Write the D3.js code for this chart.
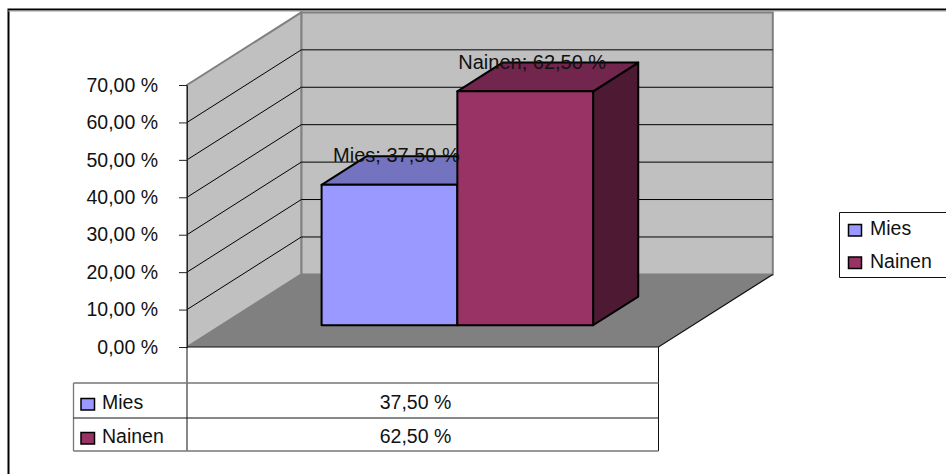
<!DOCTYPE html>
<html>
<head>
<meta charset="utf-8">
<script src="https://cdn.jsdelivr.net/npm/d3@7"></script>
<style>
html, body { margin: 0; padding: 0; background: #fff; }
svg { display: block; }
text { font-family: "Liberation Sans", Arial, sans-serif; font-size: 19.5px; fill: #111; }
</style>
</head>
<body>
<div id="visualization"></div>
<script>
var series = ["Mies", "Nainen"];
var values = [37.5, 62.5];
var tickValues = [0, 10, 20, 30, 40, 50, 60, 70];
var fillColors = ["#9999ff", "#993366"];
var topColors = ["#7373bf", "#73264d"];
var sideColors = ["#4d4d80", "#4d1933"];

var width = 946, height = 474;

var svg = d3.select("#visualization").append("svg")
    .attr("width", width)
    .attr("height", height);

function percent(v) {
    return d3.format(".2f")(v).replace(".", ",") + " %";
}

// front plane of the plot box
var y = d3.scaleLinear().domain([0, 70]).range([347, 85]);
var x = d3.scaleBand().domain(series).range([287.3, 558.8]);
var plotLeft = 187, plotRight = 658.5;

// depth runs from the front plane (0) to the back wall (1)
var depthX = d3.scaleLinear().domain([0, 1]).range([0, 114.3]);
var depthY = d3.scaleLinear().domain([0, 1]).range([0, -72.6]);
var barFront = 0.3, barBack = 0.695;

function project(px, v, z) {
    return [px + depthX(z), y(v) + depthY(z)];
}

function face(points) {
    return d3.line()(points) + "Z";
}

// outer chart frame, open on the right and at the bottom
svg.append("path")
    .attr("d", "M8.5," + height + "V9.5H" + width)
    .attr("fill", "none")
    .attr("stroke", "#000")
    .attr("stroke-width", 2);
svg.append("line")
    .attr("x1", 8).attr("x2", width)
    .attr("y1", 11).attr("y2", 11)
    .attr("stroke", "#999");

// walls and floor
var walls = svg.append("g");
walls.append("path")
    .attr("d", face([project(plotLeft, 0, 1), project(plotLeft, 70, 1), project(plotRight, 70, 1), project(plotRight, 0, 1)]))
    .attr("fill", "#c0c0c0")
    .attr("stroke", "#808080")
    .attr("stroke-width", 2);
walls.append("path")
    .attr("d", face([project(plotLeft, 0, 0), project(plotLeft, 70, 0), project(plotLeft, 70, 1), project(plotLeft, 0, 1)]))
    .attr("fill", "#c0c0c0")
    .attr("stroke", "#808080")
    .attr("stroke-width", 2);

// gridlines on both walls
tickValues.slice(1, -1).forEach(function(t) {
    walls.append("path")
        .attr("d", d3.line()([project(plotLeft, t, 0), project(plotLeft, t, 1), project(plotRight, t, 1)]))
        .attr("fill", "none")
        .attr("stroke", "#000")
        .attr("stroke-width", 1);
});

walls.append("path")
    .attr("d", face([project(plotLeft, 0, 0), project(plotLeft, 0, 1), project(plotRight, 0, 1), project(plotRight, 0, 0)]))
    .attr("fill", "#808080");
walls.append("path")
    .attr("d", d3.line()([project(plotLeft, 0, 0), project(plotRight, 0, 0), project(plotRight, 0, 1)]))
    .attr("fill", "none")
    .attr("stroke", "#111")
    .attr("stroke-width", 1.2);

// bars
var bars = svg.selectAll(".bar")
    .data(series)
    .enter().append("g")
    .attr("class", "bar");

function barFace(fn, colors) {
    bars.append("path")
        .attr("d", function(d, i) {
            var x0 = x(d), x1 = x(d) + x.bandwidth(), v = values[i];
            return face(fn(x0, x1, v));
        })
        .attr("fill", function(d, i) { return colors[i]; })
        .attr("stroke", "#000")
        .attr("stroke-width", 2)
        .attr("stroke-linejoin", "round");
}

barFace(function(x0, x1, v) {
    return [project(x1, 0, barFront), project(x1, 0, barBack), project(x1, v, barBack), project(x1, v, barFront)];
}, sideColors);
barFace(function(x0, x1, v) {
    return [project(x0, v, barFront), project(x0, v, barBack), project(x1, v, barBack), project(x1, v, barFront)];
}, topColors);
barFace(function(x0, x1, v) {
    return [project(x0, 0, barFront), project(x0, v, barFront), project(x1, v, barFront), project(x1, 0, barFront)];
}, fillColors);

// value axis
var axis = d3.axisLeft(y)
    .tickValues(tickValues)
    .tickFormat(percent)
    .tickSize(8)
    .tickSizeOuter(0)
    .tickPadding(21);

var axisG = svg.append("g")
    .attr("transform", "translate(" + plotLeft + ",0)")
    .call(axis);
axisG.selectAll("text").attr("fill", "#111").style("font-size", "19.5px").style("font-family", null);
axisG.selectAll(".tick line").attr("stroke", "#222");
axisG.select(".domain").attr("stroke", "#222");

// data labels sit over the bar tops
svg.selectAll(".data-label")
    .data(series)
    .enter().append("text")
    .attr("class", "data-label")
    .attr("text-anchor", "middle")
    .attr("x", function(d) { return project(x(d) + x.bandwidth() / 2, 0, barFront)[0] + 7; })
    .attr("y", function(d, i) { return project(0, values[i], barFront)[1] - 22.5; })
    .style("font-size", "20px")
    .text(function(d, i) { return d + "; " + percent(values[i]); });

// data table under the plot
var tableLeft = 73.5;
var rowY = d3.scaleBand().domain(series).range([384, 452]);
var table = svg.append("g");

table.append("path")
    .attr("d", "M" + plotLeft + ",347V451M" + plotRight + ",347V451")
    .attr("fill", "none")
    .attr("stroke", "#111");
table.append("path")
    .attr("d", "M" + tableLeft + ",383H" + plotRight + "M" + tableLeft + ",451H" + plotRight + "M" + tableLeft + ",383V451")
    .attr("fill", "none")
    .attr("stroke", "#777")
    .attr("stroke-width", 1.3);
table.append("line")
    .attr("x1", tableLeft).attr("x2", plotRight)
    .attr("y1", rowY("Nainen")).attr("y2", rowY("Nainen"))
    .attr("stroke", "#111");

var rows = table.selectAll(".row")
    .data(series)
    .enter().append("g")
    .attr("class", "row")
    .attr("transform", function(d) { return "translate(0," + rowY(d) + ")"; });

rows.append("rect")
    .attr("x", 81).attr("y", 14.5)
    .attr("width", 13.5).attr("height", 11.5)
    .attr("fill", function(d, i) { return fillColors[i]; })
    .attr("stroke", "#000")
    .attr("stroke-width", 1.5);
rows.append("text")
    .attr("x", 102).attr("y", 24.5)
    .text(function(d) { return d; });
rows.append("text")
    .attr("x", 415.5).attr("y", 24.5)
    .attr("text-anchor", "middle")
    .text(function(d, i) { return percent(values[i]); });

// legend box, cut off by the right edge of the page
var legendY = d3.scaleBand().domain(series).range([212.5, 277.5]);
var legend = svg.append("g");
legend.append("path")
    .attr("d", "M" + width + ",212.5H839.5V277.5H" + width)
    .attr("fill", "#fff")
    .attr("stroke", "#111");

var items = legend.selectAll(".item")
    .data(series)
    .enter().append("g")
    .attr("class", "item")
    .attr("transform", function(d) { return "translate(0," + legendY(d) + ")"; });

items.append("rect")
    .attr("x", 848.5).attr("y", 12)
    .attr("width", 13).attr("height", 11.5)
    .attr("fill", function(d, i) { return fillColors[i]; })
    .attr("stroke", "#000")
    .attr("stroke-width", 1.5);
items.append("text")
    .attr("x", 870).attr("y", 22.5)
    .text(function(d) { return d; });
</script>
</body>
</html>
